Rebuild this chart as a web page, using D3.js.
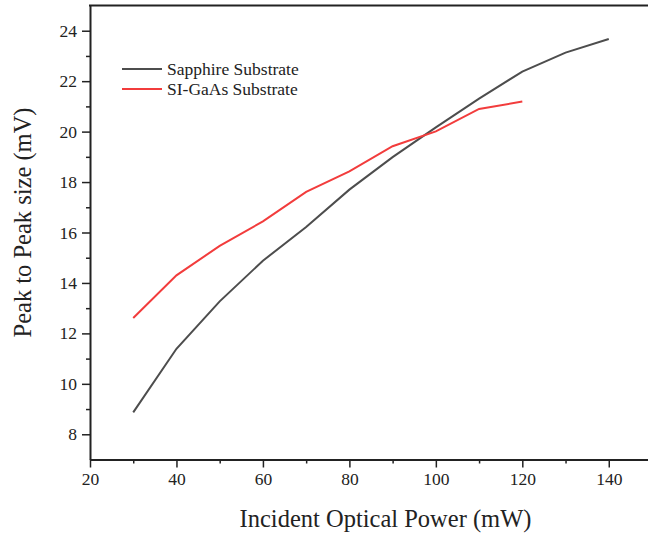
<!DOCTYPE html>
<html>
<head>
<meta charset="utf-8">
<script src="https://cdn.jsdelivr.net/npm/d3@7"></script>
<style>
  body { margin: 0; background: #fff; }
</style>
</head>
<body>
<div id="chart-area"></div>
<script>
const canvas_width = 648;
const canvas_height = 536;
const font = 'Liberation Serif';

// data
const powerSapphire = [30, 40, 50, 60, 70, 80, 90, 100, 110, 120, 130, 140];
const peakSapphire = [8.87, 11.39, 13.27, 14.88, 16.22, 17.70, 18.99, 20.17, 21.31, 22.38, 23.13, 23.67];
const powerGaAs = [30, 40, 50, 60, 70, 80, 90, 100, 110, 120];
const peakGaAs = [12.61, 14.30, 15.47, 16.44, 17.61, 18.42, 19.42, 20.01, 20.90, 21.19];
const seriesNames = ['Sapphire Substrate', 'SI-GaAs Substrate'];
const seriesColors = ['#4d4d4d', '#f23c3c'];
const xTicks = [20, 40, 60, 80, 100, 120, 140];
const yTicks = [8, 10, 12, 14, 16, 18, 20, 22, 24];

const plot = { left: 90, right: 652, top: 5.5, bottom: 459.5 };

let canvas = d3.select('#chart-area').append('svg')
    .attr('width', canvas_width)
    .attr('height', canvas_height);

let x = d3.scaleLinear().domain([20, 150]).range([plot.left, plot.right]);
let y = d3.scaleLinear().domain([7, 25]).range([plot.bottom, plot.top]);

// minor ticks
let xMinor = d3.range(30, 150, 20);
let yMinor = d3.range(9, 25, 2);

canvas.append('g')
    .attr('transform', `translate(0, ${plot.bottom})`)
    .call(d3.axisBottom(x).tickValues(xMinor).tickSize(4).tickFormat(''))
    .call(g => g.select('.domain').remove())
    .selectAll('line').attr('stroke', '#222').attr('stroke-width', 1.5);

canvas.append('g')
    .attr('transform', `translate(${plot.left}, 0)`)
    .call(d3.axisLeft(y).tickValues(yMinor).tickSize(4).tickFormat(''))
    .call(g => g.select('.domain').remove())
    .selectAll('line').attr('stroke', '#222').attr('stroke-width', 1.5);

let bottomAxis = canvas.append('g')
    .attr('transform', `translate(0, ${plot.bottom})`)
    .call(d3.axisBottom(x).tickValues(xTicks).tickSize(8).tickSizeOuter(0).tickPadding(5));
bottomAxis.select('.domain').attr('stroke', '#222').attr('stroke-width', 2);
bottomAxis.selectAll('line').attr('stroke', '#222').attr('stroke-width', 1.5);
bottomAxis.selectAll('text').attr('font-size', '17.5px').attr('fill', '#222');

let leftAxis = canvas.append('g')
    .attr('transform', `translate(${plot.left}, 0)`)
    .call(d3.axisLeft(y).tickValues(yTicks).tickSize(8).tickSizeOuter(0).tickPadding(5));
leftAxis.select('.domain').attr('stroke', '#222').attr('stroke-width', 2);
leftAxis.selectAll('line').attr('stroke', '#222').attr('stroke-width', 1.5);
leftAxis.selectAll('text').attr('font-size', '17.5px').attr('fill', '#222');

// top frame line
canvas.append('line')
    .attr('x1', plot.left - 1).attr('x2', plot.right)
    .attr('y1', plot.top).attr('y2', plot.top)
    .attr('stroke', '#222').attr('stroke-width', 2);

let line = d3.line()
    .x(d => x(d[0]))
    .y(d => y(d[1]));

let series = [
    d3.zip(powerSapphire, peakSapphire),
    d3.zip(powerGaAs, peakGaAs)
];

canvas.selectAll('path.series').data(series).enter().append('path')
    .attr('class', 'series')
    .attr('d', line)
    .attr('fill', 'none')
    .attr('stroke', (d, i) => seriesColors[i])
    .attr('stroke-width', 2);

// legend
let legend = canvas.selectAll('g.legend').data(seriesNames).enter().append('g')
    .attr('class', 'legend')
    .attr('transform', (d, i) => `translate(122, ${69 + i * 20})`);
legend.append('line')
    .attr('x1', 0).attr('x2', 40)
    .attr('stroke', (d, i) => seriesColors[i])
    .attr('stroke-width', 2);
legend.append('text')
    .attr('x', 45)
    .attr('dy', '0.35em')
    .attr('font-size', '17.5px')
    .attr('fill', '#222')
    .text(d => d);

canvas.append('text')
    .attr('x', 385.5)
    .attr('y', 527)
    .attr('font-size', '24.5px')
    .attr('text-anchor', 'middle')
    .attr('fill', '#222')
    .text('Incident Optical Power (mW)');

canvas.append('text')
    .attr('x', -222.5)
    .attr('y', 31)
    .attr('font-size', '24.5px')
    .attr('text-anchor', 'middle')
    .attr('transform', 'rotate(-90)')
    .attr('fill', '#222')
    .text('Peak to Peak size (mV)');

// serif everywhere, over the axis default
canvas.selectAll('text').style('font-family', font);
</script>
</body>
</html>
